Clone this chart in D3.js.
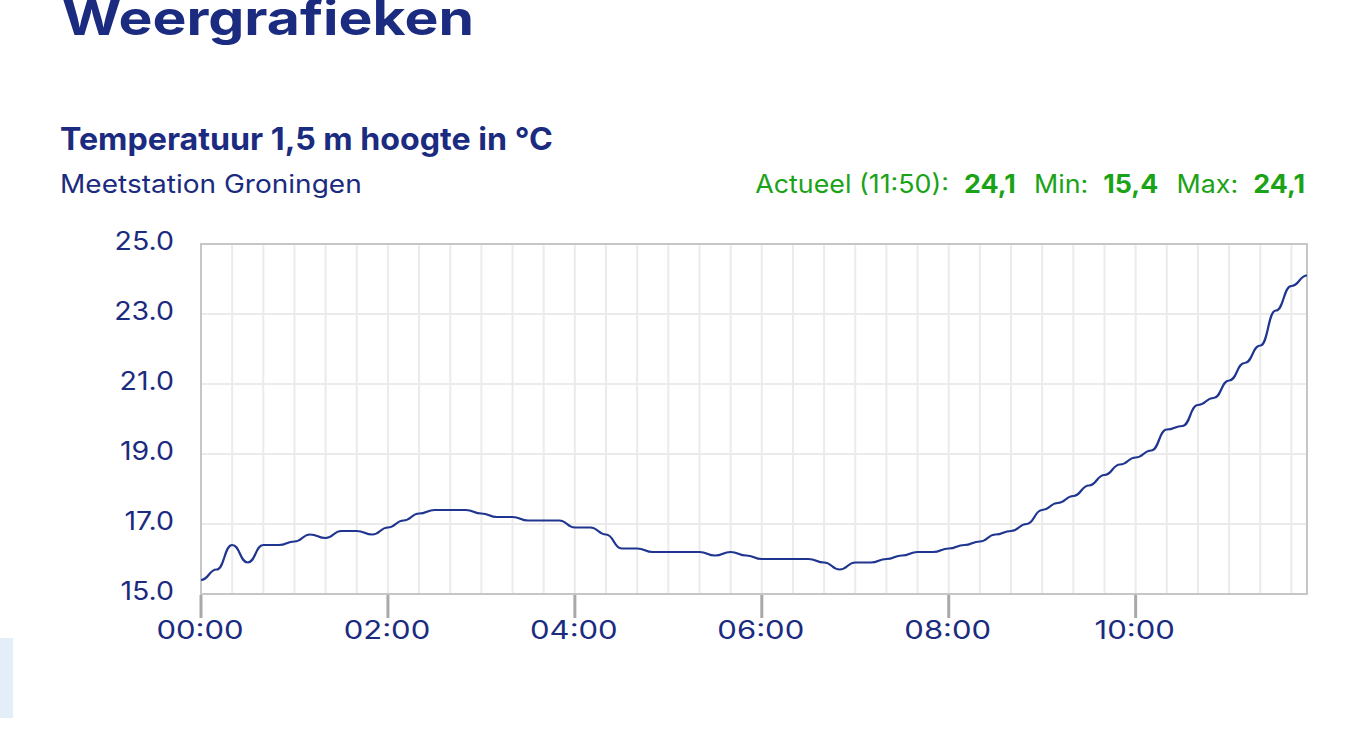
<!DOCTYPE html>
<html>
<head>
<meta charset="utf-8">
<script src="https://cdn.jsdelivr.net/npm/d3@7"></script>
<style>
  body { margin: 0; background: #fff; }
  svg { display: block; font-family: Inter, 'Noto Sans', sans-serif; }
</style>
</head>
<body>
<div id="chart"></div>
<script>
// temperature every 10 minutes, 00:00 .. 11:50
const times = [
  '00:00', '00:10', '00:20', '00:30', '00:40', '00:50',
  '01:00', '01:10', '01:20', '01:30', '01:40', '01:50',
  '02:00', '02:10', '02:20', '02:30', '02:40', '02:50',
  '03:00', '03:10', '03:20', '03:30', '03:40', '03:50',
  '04:00', '04:10', '04:20', '04:30', '04:40', '04:50',
  '05:00', '05:10', '05:20', '05:30', '05:40', '05:50',
  '06:00', '06:10', '06:20', '06:30', '06:40', '06:50',
  '07:00', '07:10', '07:20', '07:30', '07:40', '07:50',
  '08:00', '08:10', '08:20', '08:30', '08:40', '08:50',
  '09:00', '09:10', '09:20', '09:30', '09:40', '09:50',
  '10:00', '10:10', '10:20', '10:30', '10:40', '10:50',
  '11:00', '11:10', '11:20', '11:30', '11:40', '11:50'
];
const temps = [
  15.4, 15.7, 16.4, 15.9, 16.4, 16.4,
  16.5, 16.7, 16.6, 16.8, 16.8, 16.7,
  16.9, 17.1, 17.3, 17.4, 17.4, 17.4,
  17.3, 17.2, 17.2, 17.1, 17.1, 17.1,
  16.9, 16.9, 16.7, 16.3, 16.3, 16.2,
  16.2, 16.2, 16.2, 16.1, 16.2, 16.1,
  16.0, 16.0, 16.0, 16.0, 15.9, 15.7,
  15.9, 15.9, 16.0, 16.1, 16.2, 16.2,
  16.3, 16.4, 16.5, 16.7, 16.8, 17.0,
  17.4, 17.6, 17.8, 18.1, 18.4, 18.7,
  18.9, 19.1, 19.7, 19.8, 20.4, 20.6,
  21.1, 21.6, 22.1, 23.1, 23.8, 24.1
];
const yTicks = [15, 17, 19, 21, 23, 25];
const xTickLabels = ['00:00', '02:00', '04:00', '06:00', '08:00', '10:00'];

const navy = '#1b2b80';
const green = '#1aa317';

const parse = d3.timeParse('%H:%M');
const data = times.map((t, i) => ({ t: parse(t), v: temps[i] }));

const w = 1356;
const h = 732;

const svg = d3.select('#chart')
  .append('svg')
  .attr('width', w)
  .attr('height', h);

// the site font is a lot wider than Inter, so stretch text horizontally
const fitWidth = (sel, px, py, target) => {
  const k = target / sel.node().getBBox().width;
  sel.attr('transform', `translate(${px},${py}) scale(${k},1)`);
};

// plot box
const pLeft = 201, pRight = 1307, pTop = 244, pBottom = 594;

const x = d3.scaleTime()
  .domain([parse('00:00'), parse('11:50')])
  .range([pLeft, pRight]);

const y = d3.scaleLinear()
  .domain([15, 25])
  .range([pBottom, pTop]);

// headings
const title = svg.append('text')
  .attr('fill', navy)
  .style('font-size', '48px').style('font-weight', 700)
  .text('Weergrafieken');
fitWidth(title, 62, 35, 412);

const sub = svg.append('text')
  .attr('fill', navy)
  .style('font-size', '31px').style('font-weight', 700)
  .text('Temperatuur 1,5 m hoogte in °C');
fitWidth(sub, 60, 150, 493);

const station = svg.append('text')
  .attr('fill', navy)
  .style('font-size', '25px')
  .text('Meetstation Groningen');
fitWidth(station, 60, 193, 302);

const stats = svg.append('text')
  .attr('text-anchor', 'end')
  .attr('fill', green)
  .style('font-size', '25px');
stats.append('tspan').text('Actueel (11:50):');
stats.append('tspan').attr('dx', 14).style('font-weight', 700).text('24,1');
stats.append('tspan').attr('dx', 17).text('Min:');
stats.append('tspan').attr('dx', 14).style('font-weight', 700).text('15,4');
stats.append('tspan').attr('dx', 17).text('Max:');
stats.append('tspan').attr('dx', 14).style('font-weight', 700).text('24,1');
fitWidth(stats, 1305, 193, 550);

// grid
const g = svg.append('g');

g.selectAll('line.vgrid')
  .data(d3.timeMinute.every(20).range(parse('00:20'), parse('11:50')))
  .enter()
  .append('line')
  .attr('class', 'vgrid')
  .attr('x1', d => x(d)).attr('x2', d => x(d))
  .attr('y1', pTop).attr('y2', pBottom)
  .attr('stroke', '#ebebeb')
  .attr('stroke-width', 2);

g.selectAll('line.hgrid')
  .data(yTicks.slice(1, -1))
  .enter()
  .append('line')
  .attr('class', 'hgrid')
  .attr('x1', pLeft).attr('x2', pRight)
  .attr('y1', d => y(d)).attr('y2', d => y(d))
  .attr('stroke', '#ebebeb')
  .attr('stroke-width', 2);

// border
g.append('rect')
  .attr('x', pLeft).attr('y', pTop)
  .attr('width', pRight - pLeft).attr('height', pBottom - pTop)
  .attr('fill', 'none')
  .attr('stroke', '#c6c6c6')
  .attr('stroke-width', 2);

// x axis ticks
const xTicks = xTickLabels.map(parse);
g.selectAll('line.xtick')
  .data(xTicks)
  .enter()
  .append('line')
  .attr('class', 'xtick')
  .attr('x1', d => x(d)).attr('x2', d => x(d))
  .attr('y1', pBottom + 1).attr('y2', pBottom + 24)
  .attr('stroke', '#a9a9a9')
  .attr('stroke-width', 3);

g.selectAll('text.xlabel')
  .data(xTicks)
  .enter()
  .append('text')
  .attr('class', 'xlabel')
  .attr('transform', d => `translate(${x(d) - 1},639) scale(1.24,1)`)
  .attr('text-anchor', 'middle')
  .attr('fill', navy)
  .style('font-size', '25px')
  .text(d3.timeFormat('%H:%M'));

g.selectAll('text.ylabel')
  .data(yTicks)
  .enter()
  .append('text')
  .attr('class', 'ylabel')
  .attr('transform', d => `translate(174,${y(d) - 3.5}) scale(1.14,1)`)
  .attr('dy', '0.36em')
  .attr('text-anchor', 'end')
  .attr('fill', navy)
  .style('font-size', '25px')
  .text(d3.format('.1f'));

// the line
const line = d3.line()
  .x(d => x(d.t))
  .y(d => y(d.v))
  .curve(d3.curveBumpX);

svg.append('path')
  .datum(data)
  .attr('d', line)
  .attr('fill', 'none')
  .attr('stroke', '#1f3590')
  .attr('stroke-width', 2.2);

// light panel at bottom left
svg.append('rect')
  .attr('x', 0).attr('y', 638)
  .attr('width', 13).attr('height', 80)
  .attr('fill', '#e3eef9');
</script>
</body>
</html>
